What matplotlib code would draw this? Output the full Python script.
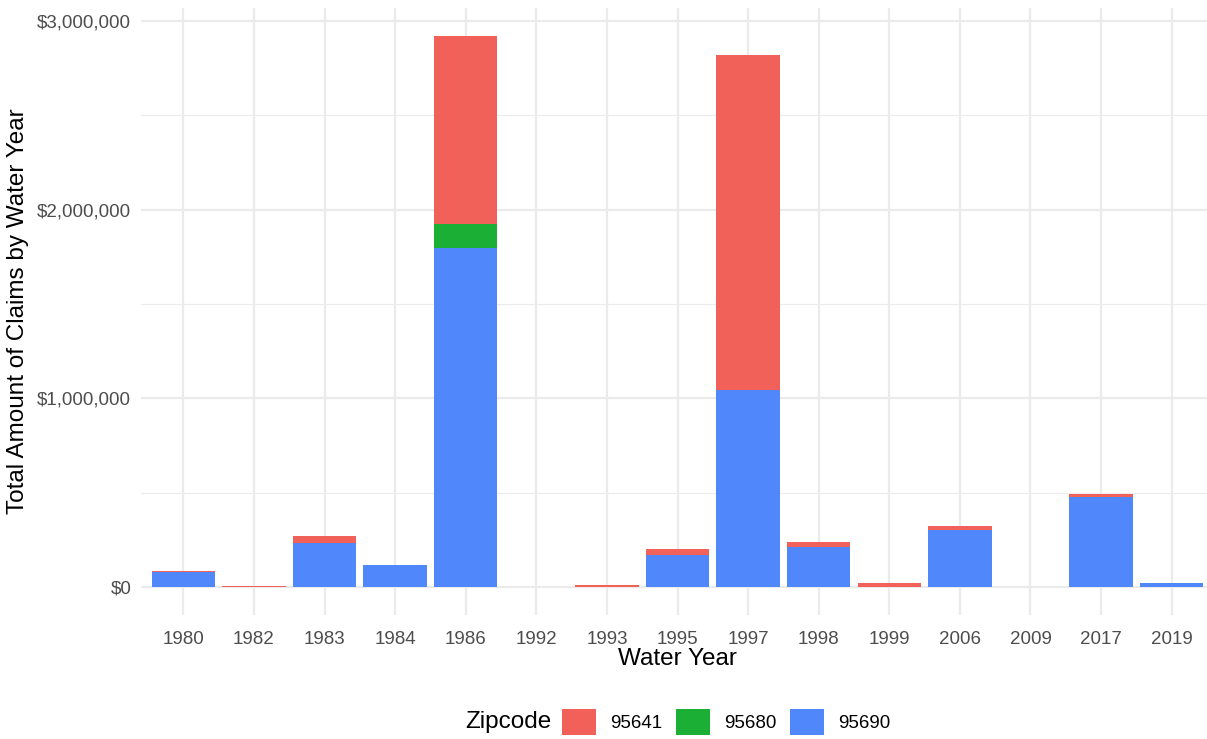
import numpy as np
import matplotlib.pyplot as plt
from matplotlib.patches import Patch
from matplotlib.ticker import FuncFormatter, MultipleLocator

plt.rcParams['font.family'] = ['Liberation Sans', 'DejaVu Sans']

years = ['1980', '1982', '1983', '1984', '1986', '1992', '1993', '1995',
         '1997', '1998', '1999', '2006', '2009', '2017', '2019']
z95690 = [78000, 0, 231000, 117000, 1797000, 0, 0, 171000,
          1044000, 214000, 0, 302000, 0, 477000, 20000]
z95680 = [0, 0, 0, 0, 127000, 0, 0, 0,
          0, 0, 0, 0, 0, 0, 0]
z95641 = [6000, 3000, 40000, 0, 996000, 500, 8000, 30000,
          1775000, 26000, 20000, 21000, 500, 16000, 0]

zips = ['95641', '95680', '95690']
colors = {'95641': '#F2605A', '95680': '#1BAF35', '95690': '#5088FC'}

fig = plt.figure(figsize=(12.07, 7.39), dpi=100)
ax = fig.add_axes([141 / 1207, (739 - 614.5) / 739, 1073 / 1207, (614.5 - 8.4) / 739])

x = np.arange(len(years))
b1 = np.array(z95690)
b2 = b1 + np.array(z95680)
ax.bar(x, z95690, width=0.9, color=colors['95690'], zorder=3)
ax.bar(x, z95680, width=0.9, bottom=b1, color=colors['95680'], zorder=3)
ax.bar(x, z95641, width=0.9, bottom=b2, color=colors['95641'], zorder=3)

ax.set_xlim(-0.6, len(years) - 0.4)
ax.set_ylim(-146000, 3066000)
ax.set_xticks(x)
ax.set_xticklabels(years)
ax.yaxis.set_major_locator(MultipleLocator(1000000))
ax.yaxis.set_minor_locator(MultipleLocator(500000))
ax.yaxis.set_major_formatter(FuncFormatter(lambda v, p: '${:,.0f}'.format(v)))

ax.grid(True, which='major', color='#EBEBEB', linewidth=1.6, zorder=0)
ax.grid(True, which='minor', axis='y', color='#EBEBEB', linewidth=0.8, zorder=0)
for s in ax.spines.values():
    s.set_visible(False)
ax.tick_params(axis='both', which='both', length=0, labelsize=13.5, labelcolor='#4D4D4D')
ax.tick_params(axis='x', pad=12)
ax.tick_params(axis='y', pad=7)

ax.set_xlabel('Water Year', fontsize=17.5, labelpad=0)
ax.set_ylabel('Total Amount of Claims by Water Year', fontsize=17.5, labelpad=6)

handles = [Patch(facecolor=colors[z], edgecolor='none') for z in zips]
fig.legend(handles, zips, loc='center', bbox_to_anchor=(726 / 1207, 17 / 739), ncol=3,
           frameon=False, fontsize=13.5, handlelength=1.8, handleheight=1.8,
           handletextpad=0.75, columnspacing=0.75, borderaxespad=0, borderpad=0)
fig.text(508 / 1207, 17 / 739, 'Zipcode', fontsize=17.5, ha='center', va='center')

fig.savefig('out.png', dpi=100)
